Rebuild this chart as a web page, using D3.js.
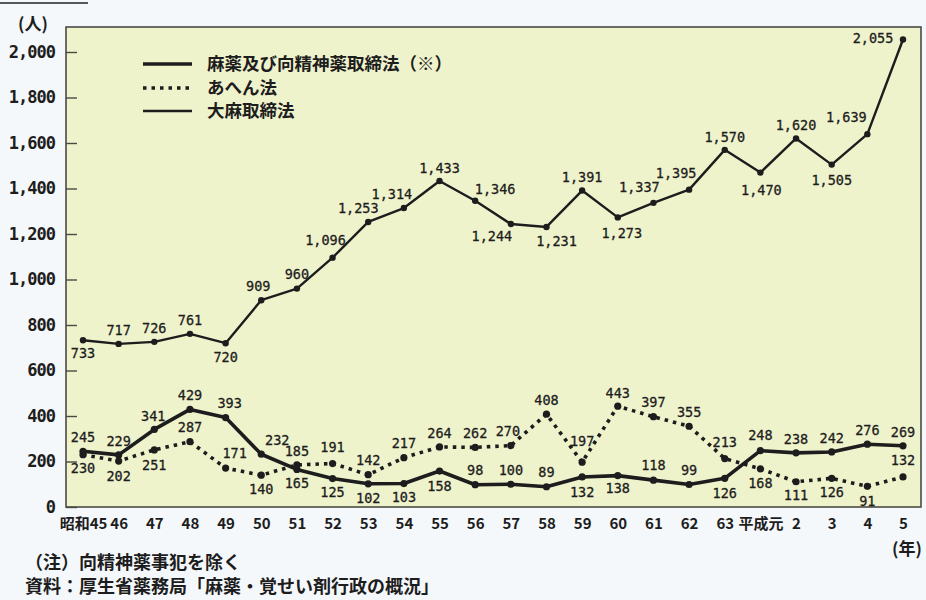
<!DOCTYPE html>
<html>
<head>
<meta charset="utf-8">
<script src="https://cdn.jsdelivr.net/npm/d3@7"></script>
<style>
  html, body { margin: 0; padding: 0; background: #f5f8fb; }
  svg { display: block; }
</style>
</head>
<body>
<svg id="chart" width="926" height="600"></svg>
<script>
// 年次
const years = ["昭和45","46","47","48","49","50","51","52","53","54","55","56","57","58","59","60","61","62","63","平成元","2","3","4","5"];

// 麻薬及び向精神薬取締法（※）違反検挙人員
const narcotics = [245,229,341,429,393,232,165,125,102,103,158,98,100,89,132,138,118,99,126,248,238,242,276,269];

// あへん法違反検挙人員
const opium = [230,202,251,287,171,140,185,191,142,217,264,262,270,408,197,443,397,355,213,168,111,126,91,132];

// 大麻取締法違反検挙人員
const cannabis = [733,717,726,761,720,909,960,1096,1253,1314,1433,1346,1244,1231,1391,1273,1337,1395,1570,1470,1620,1505,1639,2055];

const yTicks = [0,200,400,600,800,1000,1200,1400,1600,1800,2000];
const seriesNames = ["麻薬及び向精神薬取締法（※）", "あへん法", "大麻取締法"];
const noteLines = ["（注）向精神薬事犯を除く", "資料：厚生省薬務局「麻薬・覚せい剤行政の概況」"];

// label placement relative to each point: [dx, dy]
const A = [0, -14], B = [0, 14];
const narcLabelPos = [A,A,[-1,-13],A,[4,-14],[16,-14],B,B,B,B,[0,15],A,A,A,[0,15],[0,13],[0,-15],A,[0,15],[0,-15],A,A,A,A];
const opiumLabelPos = [B,[0,15],[0,15],A,[9,-15],B,A,[0,-16],A,A,A,A,[-3,-14],A,[0,-21],[0,-13],A,A,[0,-16],B,B,B,[0,15],[0,-17]];
const cannLabelPos = [[0,13],A,A,A,B,[-3,-14],A,[-7,-17],[-10,-14],[-12,-14],[0,-13],[20,-12],[-19,12],[10,14],[0,-13],[4,16],[-14,-16],[-13,-16],[0,-13],[1,18],[0,-13],[0,16],[-21,-17],[-30,-1]];

const svg = d3.select("#chart");
const W = 926, H = 600;
const plot = { left: 66, top: 27, right: 921, bottom: 507 };

const x = d3.scalePoint().domain(years).range([83, 903]);
const y = d3.scaleLinear().domain([0, 2000]).range([plot.bottom, 52]);

const ink = "#1d1d1d";
const numFont = "'DejaVu Sans Mono', monospace";
const jpFont = "'Noto Sans CJK JP', 'Noto Sans', sans-serif";

// page background
svg.append("rect").attr("width", W).attr("height", H).attr("fill", "#f5f8fb");
svg.append("line").attr("x1", 0).attr("x2", 88).attr("y1", 3).attr("y2", 3)
  .attr("stroke", "#222").attr("stroke-width", 1.6);

// plot panel
svg.append("rect")
  .attr("x", plot.left).attr("y", plot.top)
  .attr("width", plot.right - plot.left).attr("height", plot.bottom - plot.top)
  .attr("fill", "#eff3cc").attr("stroke", "#4a4a45").attr("stroke-width", 1.6);

// y axis: inward ticks on the left frame
const yAxis = svg.append("g")
  .attr("transform", `translate(${plot.left},0)`)
  .call(d3.axisLeft(y).tickValues(yTicks).tickSize(-11).tickPadding(11).tickFormat(d3.format(",")));
yAxis.select(".domain").remove();
yAxis.selectAll(".tick line").attr("stroke", "#4a4a45").attr("stroke-width", 1.4);
yAxis.selectAll(".tick text")
  .attr("font-family", numFont).attr("font-size", 17).attr("font-weight", "bold")
  .attr("letter-spacing", -1).attr("fill", ink);

// x axis labels
const xAxis = svg.append("g")
  .attr("transform", `translate(0,${plot.bottom})`)
  .call(d3.axisBottom(x).tickSize(0).tickPadding(11));
xAxis.select(".domain").remove();
xAxis.selectAll(".tick text")
  .attr("font-family", jpFont).attr("font-size", 15).attr("font-weight", "bold")
  .attr("fill", ink);

// unit labels
svg.append("text").attr("x", 33).attr("y", 22).attr("text-anchor", "middle")
  .attr("dominant-baseline", "central")
  .attr("font-family", jpFont).attr("font-size", 17).attr("font-weight", "bold").attr("fill", ink)
  .text("(人)");
svg.append("text").attr("x", 907).attr("y", 547).attr("text-anchor", "middle")
  .attr("dominant-baseline", "central")
  .attr("font-family", jpFont).attr("font-size", 17).attr("font-weight", "bold").attr("fill", ink)
  .text("(年)");

// series definitions
const series = [
  { name: seriesNames[0], values: narcotics, width: 3.6, dash: null, r: 3.6, pos: narcLabelPos },
  { name: seriesNames[1], values: opium, width: 3.6, dash: "3.5,5", r: 3.6, pos: opiumLabelPos },
  { name: seriesNames[2], values: cannabis, width: 2.4, dash: null, r: 3.2, pos: cannLabelPos }
];

const line = d3.line().x((d, i) => x(years[i])).y(d => y(d));

series.forEach(s => {
  const g = svg.append("g");
  g.append("path")
    .attr("d", line(s.values))
    .attr("fill", "none")
    .attr("stroke", ink)
    .attr("stroke-width", s.width)
    .attr("stroke-linejoin", "round")
    .attr("stroke-dasharray", s.dash);
  g.selectAll("circle").data(s.values).join("circle")
    .attr("cx", (d, i) => x(years[i]))
    .attr("cy", d => y(d))
    .attr("r", s.r)
    .attr("fill", ink);
  g.selectAll("text").data(s.values).join("text")
    .attr("x", (d, i) => x(years[i]) + s.pos[i][0])
    .attr("y", (d, i) => y(d) + s.pos[i][1])
    .attr("dy", "0.35em")
    .attr("text-anchor", "middle")
    .attr("font-family", numFont).attr("font-size", 13.5)
    .attr("fill", ink).attr("stroke", ink).attr("stroke-width", 0.3)
    .text(d => d3.format(",")(d));
});

// legend
const legend = svg.append("g");
const legendY = [64, 88, 111];
series.forEach((s, i) => {
  legend.append("line")
    .attr("x1", 143).attr("x2", 192)
    .attr("y1", legendY[i]).attr("y2", legendY[i])
    .attr("stroke", ink)
    .attr("stroke-width", s.width)
    .attr("stroke-dasharray", s.dash);
  legend.append("text")
    .attr("x", 207).attr("y", legendY[i]).attr("dy", "0.35em")
    .attr("font-family", jpFont).attr("font-size", 17.5).attr("font-weight", "bold")
    .attr("fill", ink)
    .text(s.name);
});

// notes
noteLines.forEach((t, i) => {
  svg.append("text")
    .attr("x", 25).attr("y", 563 + i * 24).attr("dy", "0.35em")
    .attr("font-family", jpFont).attr("font-size", 18).attr("font-weight", "bold")
    .attr("fill", ink)
    .text(t);
});
</script>
</body>
</html>
